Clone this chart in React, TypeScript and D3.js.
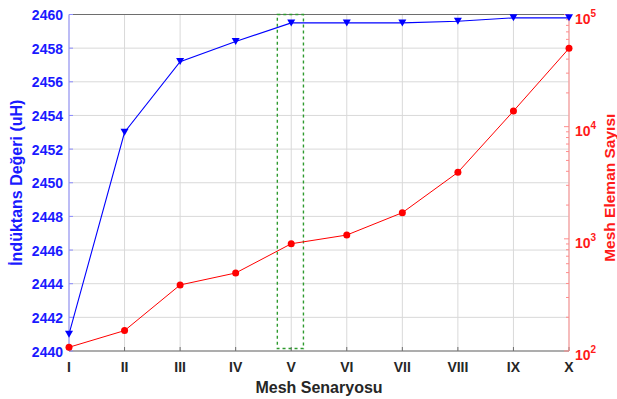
import * as d3 from "d3";

// senaryolar ve ölçülen değerler
const scenarios = ["I", "II", "III", "IV", "V", "VI", "VII", "VIII", "IX", "X"];
const inductance = [2441.0, 2453.0, 2457.2, 2458.4, 2459.5, 2459.5, 2459.5, 2459.6, 2459.8, 2459.8];
const elementCount = [108, 152, 388, 496, 904, 1081, 1710, 3915, 13770, 49890];

const leftTicks = [2440, 2442, 2444, 2446, 2448, 2450, 2452, 2454, 2456, 2458, 2460];
const rightTicks = [100, 1000, 10000, 100000];

// vurgulanan senaryo (yeşil kesikli kutu)
const highlightScenario = "V";
const highlightSpan = [-0.25, 0.22];
const highlightRange = [2440.15, 2460];

const W = 617;
const H = 399;
const margin = { top: 14.5, right: 48, bottom: 48, left: 69 };

const FONT = "'Liberation Sans', Arial, Helvetica, sans-serif";

export default function App() {
  const x = d3
    .scalePoint<string>()
    .domain(scenarios)
    .range([margin.left, W - margin.right]);
  const yL = d3
    .scaleLinear()
    .domain([2440, 2460])
    .range([H - margin.bottom, margin.top]);
  const yR = d3
    .scaleLog()
    .domain([100, 100000])
    .range([H - margin.bottom, margin.top]);

  const x0 = margin.left;
  const x1 = W - margin.right;
  const yTop = margin.top;
  const yBot = H - margin.bottom;

  const blueLine = d3
    .line<number>()
    .x((_, i) => x(scenarios[i])!)
    .y((d) => yL(d));
  const redLine = d3
    .line<number>()
    .x((_, i) => x(scenarios[i])!)
    .y((d) => yR(d));

  // log eksen ara çentikleri
  const minor: number[] = [];
  for (let dec = 100; dec < 100000; dec *= 10) {
    for (let k = 2; k <= 9; k++) minor.push(dec * k);
  }

  const step = x.step();
  const hx = x(highlightScenario)!;
  const tri = (cx: number, cy: number) =>
    `M${cx - 4},${cy - 3.5}L${cx + 4},${cy - 3.5}L${cx},${cy + 3.5}Z`;

  return (
    <svg
      width={W}
      height={H}
      style={{ position: "absolute", left: 0, top: 0, background: "#fff" }}
      fontFamily={FONT}
    >
      {/* ızgara */}
      <g stroke="#d9d9d9" strokeWidth={1}>
        {scenarios.map((s) => (
          <line key={s} x1={x(s)} x2={x(s)} y1={yTop} y2={yBot} />
        ))}
        {leftTicks.map((t) => (
          <line key={t} x1={x0} x2={x1} y1={yL(t)} y2={yL(t)} />
        ))}
      </g>

      {/* üst ve alt kenar */}
      <line x1={x0} x2={x1} y1={yTop} y2={yTop} stroke="#6e6e6e" strokeWidth={1} />
      <line x1={x0} x2={x1} y1={yBot} y2={yBot} stroke="#6e6e6e" strokeWidth={1} />
      {scenarios.map((s) => (
        <line key={s} x1={x(s)} x2={x(s)} y1={yBot} y2={yBot - 4} stroke="#6e6e6e" />
      ))}

      {/* sol eksen */}
      <line x1={x0} x2={x0} y1={yTop} y2={yBot} stroke="#8c8cff" strokeWidth={1} />
      {leftTicks.map((t) => (
        <g key={t}>
          <line x1={x0} x2={x0 + 4} y1={yL(t)} y2={yL(t)} stroke="#8c8cff" />
          <text
            x={x0 - 6}
            y={yL(t) + 5.5}
            textAnchor="end"
            fontSize={14}
            fontWeight="bold"
            fill="#1a1aff"
          >
            {t}
          </text>
        </g>
      ))}

      {/* sağ eksen */}
      <line x1={x1} x2={x1} y1={yTop} y2={yBot} stroke="#ff8c8c" strokeWidth={1} />
      {minor.map((t) => (
        <line key={t} x1={x1} x2={x1 - 3} y1={yR(t)} y2={yR(t)} stroke="#ff8c8c" />
      ))}
      {rightTicks.map((t) => (
        <g key={t}>
          <line x1={x1} x2={x1 - 5} y1={yR(t)} y2={yR(t)} stroke="#ff8c8c" />
          <text x={x1 + 6} y={yR(t) + 9} fontSize={14} fontWeight="bold" fill="#ff1a1a">
            10
            <tspan dy={-7} fontSize={10}>
              {Math.round(Math.log10(t))}
            </tspan>
          </text>
        </g>
      ))}

      {/* x etiketleri */}
      {scenarios.map((s) => (
        <text
          key={s}
          x={x(s)}
          y={yBot + 21}
          textAnchor="middle"
          fontSize={14}
          fontWeight="bold"
          fill="#262626"
        >
          {s}
        </text>
      ))}

      {/* eksen başlıkları */}
      <text
        x={(x0 + x1) / 2}
        y={yBot + 42}
        textAnchor="middle"
        fontSize={16}
        fontWeight="bold"
        fill="#262626"
      >
        Mesh Senaryosu
      </text>
      <text
        transform={`translate(22,${(yTop + yBot) / 2}) rotate(-90)`}
        textAnchor="middle"
        fontSize={16}
        fontWeight="bold"
        fill="#1a1aff"
      >
        İndüktans Değeri (uH)
      </text>
      <text
        transform={`translate(615,${(yTop + yBot) / 2 + 5}) rotate(-90)`}
        textAnchor="middle"
        fontSize={15.5}
        fontWeight="bold"
        fill="#ff1a1a"
      >
        Mesh Eleman Sayısı
      </text>

      {/* vurgu kutusu */}
      <rect
        x={hx + highlightSpan[0] * step}
        y={yL(highlightRange[1])}
        width={(highlightSpan[1] - highlightSpan[0]) * step}
        height={yL(highlightRange[0]) - yL(highlightRange[1])}
        fill="none"
        stroke="#2e9a2e"
        strokeWidth={1.4}
        strokeDasharray="3,3"
      />

      {/* seriler */}
      <path d={redLine(elementCount)!} fill="none" stroke="#ff0000" strokeWidth={1} />
      {elementCount.map((v, i) => (
        <circle key={i} cx={x(scenarios[i])} cy={yR(v)} r={3.5} fill="#ff0000" />
      ))}
      <path d={blueLine(inductance)!} fill="none" stroke="#0000ff" strokeWidth={1.1} />
      {inductance.map((v, i) => (
        <path key={i} d={tri(x(scenarios[i])!, yL(v))} fill="#0000ff" />
      ))}
    </svg>
  );
}
